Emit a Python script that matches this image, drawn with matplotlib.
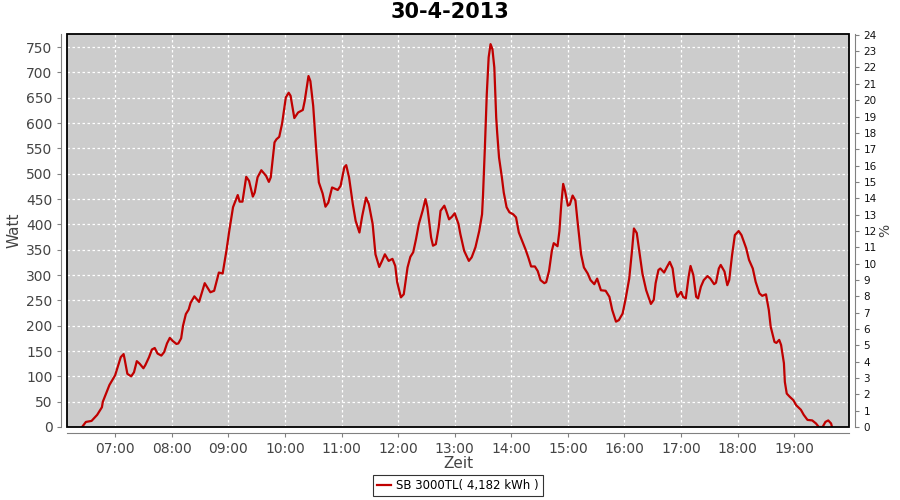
import pandas as pd
import matplotlib
matplotlib.use('Agg')
import matplotlib.pyplot as plt
import matplotlib.dates as mdates
from matplotlib.patches import Rectangle

day = '2013-04-30'
title = '30-4-2013'
series_label = 'SB 3000TL( 4,182 kWh )'

times = [
    '06:25', '06:29', '06:35', '06:41', '06:46', '06:47', '06:54', '07:00', '07:06', '07:09',
    '07:10', '07:13', '07:17', '07:20', '07:23', '07:26', '07:30', '07:32', '07:36', '07:39',
    '07:42', '07:45', '07:49', '07:52', '07:55', '07:58', '08:01', '08:05', '08:07', '08:10',
    '08:12', '08:15', '08:18', '08:20', '08:24', '08:29', '08:35', '08:41', '08:45', '08:50',
    '08:54', '08:58', '09:01', '09:05', '09:10', '09:12', '09:15', '09:19', '09:22', '09:26',
    '09:28', '09:31', '09:35', '09:40', '09:43', '09:45', '09:49', '09:51', '09:54', '09:57',
    '10:01', '10:04', '10:06', '10:10', '10:14', '10:19', '10:21', '10:25', '10:27', '10:30',
    '10:33', '10:36', '10:40', '10:43', '10:46', '10:50', '10:56', '10:59', '11:03', '11:05',
    '11:08', '11:12', '11:15', '11:19', '11:22', '11:26', '11:29', '11:33', '11:36', '11:40',
    '11:43', '11:46', '11:50', '11:54', '11:57', '11:59', '12:03', '12:06', '12:10', '12:13',
    '12:16', '12:19', '12:22', '12:26', '12:29', '12:31', '12:35', '12:37', '12:40', '12:43',
    '12:45', '12:49', '12:51', '12:54', '12:57', '13:00', '13:04', '13:06', '13:10', '13:15',
    '13:18', '13:22', '13:26', '13:29', '13:30', '13:32', '13:34', '13:36', '13:38', '13:40',
    '13:42', '13:44', '13:45', '13:47', '13:50', '13:52', '13:55', '13:58', '14:02', '14:05',
    '14:08', '14:12', '14:15', '14:18', '14:21', '14:25', '14:28', '14:31', '14:35', '14:37',
    '14:40', '14:43', '14:45', '14:49', '14:51', '14:53', '14:55', '14:57', '15:00', '15:02',
    '15:05', '15:08', '15:10', '15:14', '15:17', '15:21', '15:24', '15:28', '15:31', '15:35',
    '15:40', '15:44', '15:47', '15:51', '15:54', '15:58', '16:01', '16:05', '16:08', '16:10',
    '16:13', '16:15', '16:19', '16:23', '16:28', '16:31', '16:33', '16:36', '16:38', '16:42',
    '16:45', '16:48', '16:51', '16:54', '16:56', '17:00', '17:02', '17:05', '17:08', '17:10',
    '17:13', '17:16', '17:18', '17:21', '17:24', '17:28', '17:31', '17:35', '17:37', '17:40',
    '17:42', '17:46', '17:49', '17:51', '17:54', '17:57', '18:01', '18:04', '18:09', '18:12',
    '18:16', '18:19', '18:23', '18:26', '18:30', '18:33', '18:35', '18:39', '18:41', '18:44',
    '18:46', '18:49', '18:50', '18:52', '18:55', '18:59', '19:02', '19:07', '19:10', '19:14',
    '19:19', '19:23', '19:26', '19:30', '19:33', '19:36', '19:39', '19:40',
]
watt = [
    0, 10, 12, 24, 39, 50, 83, 102, 138, 144,
    135, 105, 100, 108, 130, 125, 116, 122, 138, 153,
    156, 145, 141, 148, 165, 176, 170, 164, 165, 175,
    200, 223, 232, 245, 258, 247, 284, 266, 269, 305,
    303, 348, 387, 434, 458, 445, 445, 494, 486, 455,
    463, 493, 507, 496, 484, 493, 562, 568, 573, 599,
    651, 660, 654, 610, 621, 626, 644, 693, 683, 634,
    552, 483, 461, 435, 443, 473, 468, 476, 513, 517,
    493, 440, 407, 384, 417, 453, 440, 401, 341, 316,
    328, 341, 328, 332, 318, 286, 256, 262, 315, 336,
    345, 371, 401, 427, 450, 434, 374, 358, 361, 394,
    427, 437, 427, 410, 415, 422, 401, 381, 348, 328,
    335, 355, 387, 420, 457, 552, 657, 730, 756, 746,
    710, 611, 582, 532, 493, 463, 434, 424, 420, 414,
    384, 365, 351, 335, 317, 317, 308, 290, 284, 286,
    308, 348, 363, 357, 387, 440, 480, 466, 437, 439,
    457, 447, 410, 341, 315, 303, 290, 282, 293, 270,
    269, 257, 231, 208, 211, 224, 251, 293, 349, 392,
    383, 356, 303, 270, 243, 251, 284, 310, 313, 305,
    316, 326, 313, 270, 257, 267, 257, 254, 297, 318,
    300, 257, 254, 277, 290, 298, 293, 282, 285, 313,
    320, 307, 280, 290, 339, 379, 387, 379, 353, 330,
    313, 287, 264, 259, 262, 231, 198, 168, 166, 172,
    162, 126, 89, 66, 60, 53, 43, 34, 24, 14,
    13, 7, 0, 0, 10, 13, 7, 0,
]
watt_ticks = list(range(0, 751, 50))
pct_ticks = list(range(0, 25))

x = pd.to_datetime([f'{day} {t}' for t in times])

fig = plt.figure(figsize=(9, 5), dpi=100)
ax = fig.add_axes([67 / 900, 1 - 427 / 500, 782 / 900, 393 / 500])
ax.set_facecolor('#cccccc')

ax.plot(x, watt, color='#c00000', linewidth=1.6, label=series_label, zorder=3)

ax.set_xlim(pd.Timestamp(f'{day} 06:09'), pd.Timestamp(f'{day} 19:58'))
ax.set_ylim(0, 776)
ax.set_yticks(watt_ticks)
ax.xaxis.set_major_locator(mdates.HourLocator(byhour=range(7, 20)))
ax.xaxis.set_major_formatter(mdates.DateFormatter('%H:%M'))

ax.grid(True, color='white', linestyle=(0, (2, 2)), linewidth=0.9)
ax.set_axisbelow(True)

grey = '#808080'
for side in ['left', 'bottom']:
    ax.spines[side].set_position(('outward', 4))
    ax.spines[side].set_color(grey)
ax.spines['top'].set_visible(False)
ax.spines['right'].set_visible(False)
ax.tick_params(axis='both', colors=grey, labelcolor='#444444', labelsize=10, length=3)

# black plot border
ax.add_patch(Rectangle((0, 0), 1, 1, transform=ax.transAxes, fill=False,
                       edgecolor='black', linewidth=1.3, clip_on=False, zorder=5))

ax2 = ax.twinx()
ax2.set_ylim(0, 24.05)
ax2.set_yticks(pct_ticks)
for side in ['left', 'bottom', 'top']:
    ax2.spines[side].set_visible(False)
ax2.spines['right'].set_position(('outward', 4))
ax2.spines['right'].set_color(grey)
ax2.tick_params(axis='y', colors=grey, labelcolor='#111111', labelsize=7.5, length=3)
ax2.set_ylabel('%', fontsize=10, color='#444444', labelpad=1)

ax.set_xlabel('Zeit', fontsize=11, color='#444444', labelpad=0)
ax.set_ylabel('Watt', fontsize=11, color='#444444', labelpad=3)
fig.suptitle(title, x=0.5, y=0.995, fontsize=15, fontweight='bold')

leg = ax.legend(loc='upper center', bbox_to_anchor=(0.5, -0.106), frameon=True,
                fancybox=False, fontsize=8.5, handlelength=1.2, borderpad=0.35,
                handletextpad=0.4)
leg.get_frame().set_edgecolor('black')
leg.get_frame().set_linewidth(0.8)

fig.savefig('out.png', dpi=100)
